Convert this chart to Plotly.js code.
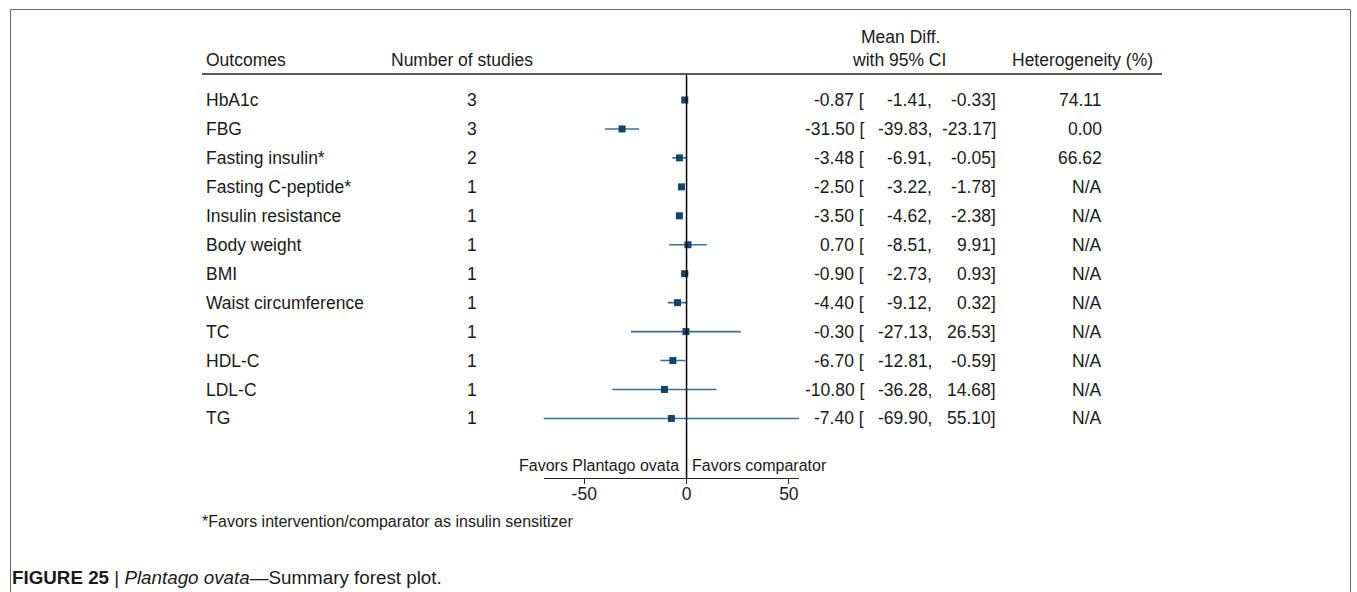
<!DOCTYPE html>
<html>
<head>
<meta charset="utf-8">
<script src="https://cdn.plot.ly/plotly-3.0.1.min.js"></script>
<style>html,body{margin:0;padding:0;background:#fff;}#chart{width:1357px;height:592px;}</style>
</head>
<body>
<div id="chart"></div>
<script>
var outcomes = ["HbA1c","FBG","Fasting insulin*","Fasting C-peptide*","Insulin resistance","Body weight","BMI","Waist circumference","TC","HDL-C","LDL-C","TG"];
var nStudies = [3,3,2,1,1,1,1,1,1,1,1,1];
var meanDiff = [-0.87,-31.50,-3.48,-2.50,-3.50,0.70,-0.90,-4.40,-0.30,-6.70,-10.80,-7.40];
var ciLow = [-1.41,-39.83,-6.91,-3.22,-4.62,-8.51,-2.73,-9.12,-27.13,-12.81,-36.28,-69.90];
var ciHigh = [-0.33,-23.17,-0.05,-1.78,-2.38,9.91,0.93,0.32,26.53,-0.59,14.68,55.10];
var heterogeneity = ["74.11","0.00","66.62","N/A","N/A","N/A","N/A","N/A","N/A","N/A","N/A","N/A"];
var xTicks = [-50,0,50];

var W = 1357, H = 592;
function px(x){return x/W;}
function py(y){return 1 - y/H;}
var rowTop = 100, rowStep = 28.95;
var axisBottom = 478, axisTop = 75;
var yIdx = outcomes.map(function(_,i){return -i;});
var yMin = -(axisBottom-rowTop)/rowStep, yMax = (rowTop-axisTop)/rowStep;

var font = "Liberation Sans, Arial, Helvetica, sans-serif";
var txtCol = "#1a1a1a";
var fs = 17.5;

var trace = {
  type: "scatter", mode: "markers",
  x: meanDiff, y: yIdx,
  marker: {symbol: "square", size: 7, color: "#0e4670"},
  error_x: {type: "data", symmetric: false,
    array: ciHigh.map(function(h,i){return h-meanDiff[i];}),
    arrayminus: meanDiff.map(function(m,i){return m-ciLow[i];}),
    width: 0, thickness: 1.6, color: "#3d6f96"},
  hoverinfo: "skip", showlegend: false, cliponaxis: false
};

var ann = [];
function A(text,x,y,xanchor,yref,size){
  ann.push({text:text, x:px(x), xref:"paper", y:y, yref:yref||"paper", xanchor:xanchor, yanchor:"middle",
    showarrow:false, borderpad:0, borderwidth:0, font:{family:font,size:size||fs,color:txtCol}});
}
// headers
A("Outcomes",206,py(60),"left");
A("Number of studies",391,py(60),"left");
A("Mean Diff.",900,py(37),"center");
A("with 95% CI",899,py(60),"center");
A("Heterogeneity (%)",1012,py(60),"left");
// rows
outcomes.forEach(function(o,i){
  A(o,206,-i,"left","y");
  A(String(nStudies[i]),472,-i,"center","y");
  A(meanDiff[i].toFixed(2)+" [",864,-i,"right","y");
  A(ciLow[i].toFixed(2)+",",932,-i,"right","y");
  A(ciHigh[i].toFixed(2)+"]",996,-i,"right","y");
  A(heterogeneity[i],1102,-i,"right","y");
});
A("Favors Plantago ovata",679,py(465),"right","paper",16);
A("Favors comparator",692,py(465),"left","paper",16);
A("*Favors intervention/comparator as insulin sensitizer",202,py(521),"left","paper",16);
A("<b>FIGURE 25</b> | <i>Plantago ovata</i>—Summary forest plot.",12,py(577),"left","paper",18.8);

var shapes = [
  {type:"rect", xref:"paper", yref:"paper", x0:px(10.5), x1:px(1350.5), y0:-0.1, y1:py(9.5), line:{color:"#666",width:1}},
  {type:"line", xref:"paper", yref:"paper", x0:px(202), x1:px(1162), y0:py(74), y1:py(74), line:{color:"#222",width:1.5}},
  {type:"line", xref:"x", yref:"paper", x0:0, x1:0, y0:py(axisBottom), y1:py(axisTop), line:{color:"#000",width:1.5}}
];

var layout = {
  width: W, height: H,
  margin: {l:0,r:0,t:0,b:0},
  paper_bgcolor: "#fff", plot_bgcolor: "rgba(0,0,0,0)",
  xaxis: {domain:[px(543.5),px(799.3)], range:[-69.9,55.1], showline:true, linecolor:"#222", linewidth:1,
    ticks:"outside", ticklen:5, tickcolor:"#222", tickvals:xTicks, ticktext:xTicks.map(String),
    ticklabelstandoff:-5,
    showgrid:false, zeroline:false, tickfont:{family:font,size:17.5,color:txtCol}, fixedrange:true},
  yaxis: {domain:[py(axisBottom),py(axisTop)], range:[yMin,yMax], visible:false, fixedrange:true},
  annotations: ann, shapes: shapes, showlegend:false
};
Plotly.newPlot("chart",[trace],layout,{displayModeBar:false,staticPlot:true});
</script>
</body>
</html>
